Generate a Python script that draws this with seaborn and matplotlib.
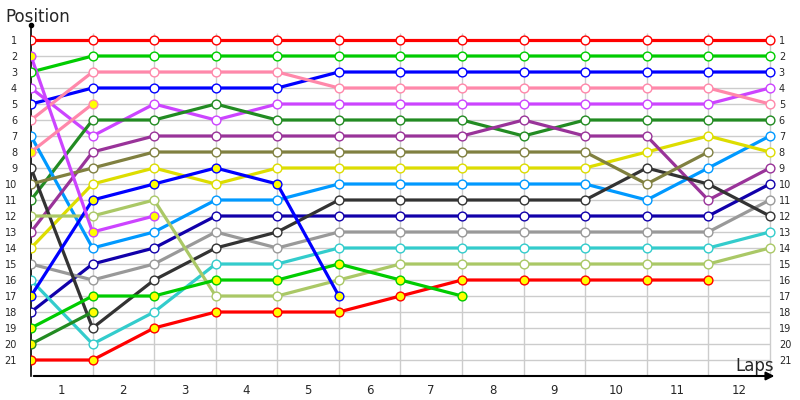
import matplotlib
matplotlib.use('Agg')
import matplotlib.pyplot as plt
import seaborn as sns
import pandas as pd

# lap chart data: column 0 is the start grid, then laps 1..12
laps = list(range(0, 13))
lap_labels = [str(i) for i in range(1, 13)]
pos_labels = [str(i) for i in range(1, 22)]

colors = ['#ff0000', '#00cc00', '#0000ff', '#cc44ff', '#ff88aa', '#228b22',
          '#0099ff', '#dddd00', '#993399', '#1100aa', '#999999', '#333333',
          '#33cccc', '#aac866', '#808040', '#ff0000', '#00cc00', '#0000ff',
          '#228b22', '#cc44ff', '#ff88aa']

positions = [
    [1, 1, 1, 1, 1, 1, 1, 1, 1, 1, 1, 1, 1],
    [3, 2, 2, 2, 2, 2, 2, 2, 2, 2, 2, 2, 2],
    [5, 4, 4, 4, 4, 3, 3, 3, 3, 3, 3, 3, 3],
    [4, 7, 5, 6, 5, 5, 5, 5, 5, 5, 5, 5, 4],
    [6, 3, 3, 3, 3, 4, 4, 4, 4, 4, 4, 4, 5],
    [11, 6, 6, 5, 6, 6, 6, 6, 7, 6, 6, 6, 6],
    [7, 14, 13, 11, 11, 10, 10, 10, 10, 10, 11, 9, 7],
    [14, 10, 9, 10, 9, 9, 9, 9, 9, 9, 8, 7, 8],
    [13, 8, 7, 7, 7, 7, 7, 7, 6, 7, 7, 11, 9],
    [18, 15, 14, 12, 12, 12, 12, 12, 12, 12, 12, 12, 10],
    [15, 16, 15, 13, 14, 13, 13, 13, 13, 13, 13, 13, 11],
    [9, 19, 16, 14, 13, 11, 11, 11, 11, 11, 9, 10, 12],
    [16, 20, 18, 15, 15, 14, 14, 14, 14, 14, 14, 14, 13],
    [12, 12, 11, 17, 17, 16, 15, 15, 15, 15, 15, 15, 14],
    [10, 9, 8, 8, 8, 8, 8, 8, 8, 8, 10, 8],
    [21, 21, 19, 18, 18, 18, 17, 16, 16, 16, 16, 16],
    [19, 17, 17, 16, 16, 15, 16, 17],
    [17, 11, 10, 9, 10, 17],
    [20, 18],
    [2, 13, 12],
    [8, 5],
]

# yellow filled markers for these drivers
yellow_fill = [False] * 15 + [True] * 6

sns.set_style('white')
plt.rcParams['font.family'] = ['DejaVu Sans']

fig = plt.figure(figsize=(8, 4), dpi=100)
ax = fig.add_axes([31 / 800, 24 / 400, 745 / 800, 352 / 400])

# grid
ax.hlines(range(1, 22), 0, 12, color='#cccccc', lw=1, zorder=0)
ax.vlines(range(1, 13), 0.55, 22, color='#cccccc', lw=1, zorder=0)

for i in range(len(positions)):
    p = positions[i]
    d = pd.DataFrame({'lap': laps[:len(p)], 'pos': p})
    sns.lineplot(data=d, x='lap', y='pos', color=colors[i], lw=2.3,
                 ax=ax, zorder=2 + i * 0.01)
    fc = '#ffff00' if yellow_fill[i] else 'white'
    sns.scatterplot(data=d, x='lap', y='pos', color=fc, edgecolor=colors[i],
                    linewidth=1.0, s=40, ax=ax, zorder=3 + i * 0.01)

ax.set_xlim(0, 12.1)
ax.set_ylim(22, 0)
ax.set_xticks([i + 0.5 for i in range(12)])
ax.set_xticklabels(lap_labels, fontsize=8.5)
ax.set_yticks(range(1, 22))
ax.set_yticklabels(pos_labels, fontsize=7)
ax.tick_params(axis='y', length=0, pad=10)
ax.tick_params(axis='x', length=0, pad=6)
ax.set_xlabel('')
ax.set_ylabel('')

# right side position labels
ax2 = ax.twinx()
ax2.set_ylim(22, 0)
ax2.set_yticks(range(1, 22))
ax2.set_yticklabels(pos_labels, fontsize=7)
ax2.tick_params(axis='y', length=0, pad=2)
for s in ax2.spines.values():
    s.set_visible(False)
ax2.grid(False)

for s in ['top', 'right']:
    ax.spines[s].set_visible(False)
ax.spines['left'].set_color('black')
ax.spines['left'].set_linewidth(1.2)
ax.spines['bottom'].set_visible(False)

# axis with arrow
ax.annotate('', xy=(12.12, 22), xytext=(0, 22),
            arrowprops=dict(arrowstyle='-|>', color='black', lw=1.5,
                            mutation_scale=12),
            annotation_clip=False)
ax.plot([0], [0.05], 'o', color='black', ms=3, clip_on=False)

fig.text(5 / 800, 1 - 22 / 400, 'Position', fontsize=12, ha='left', va='baseline')
fig.text(774 / 800, 1 - 371 / 400, 'Laps', fontsize=12, ha='right', va='baseline')

fig.savefig('out.png', dpi=100)
